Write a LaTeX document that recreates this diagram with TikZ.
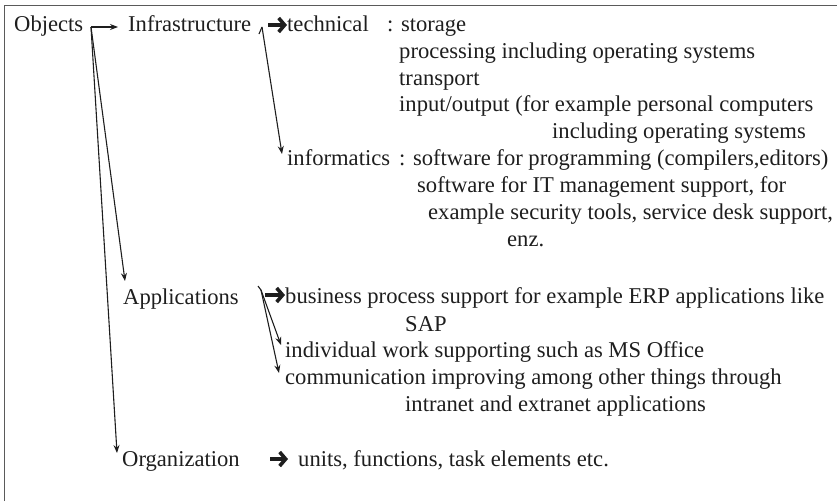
\documentclass[tikz,border=0pt]{standalone}
\usepackage{fontspec}
\setmainfont{Liberation Serif}
\usetikzlibrary{arrows.meta}
\definecolor{ink}{HTML}{1E1E1E}
\definecolor{framec}{HTML}{5A5A5A}
\tikzset{
  txt/.style={anchor=base west, inner sep=0pt, text=ink},
  thinline/.style={draw=ink, line width=1.1pt},
  tarr/.style={draw=ink, line width=1.1pt, -{Stealth[length=8pt,width=6pt]}},
  barr/.style={draw=ink, line width=3.6pt, line join=miter, -{Straight Barb[length=6pt,width=14pt,line width=3.6pt]}}
}
\begin{document}
\begin{tikzpicture}[x=1pt,y=-1pt,font=\fontsize{22.6}{27}\selectfont]
\useasboundingbox (0,0) rectangle (837,501);
\draw[framec, line width=1.3pt] (4.5,501) -- (4.5,5.5) -- (837,5.5);

\node[txt] (obj)   at (14,31)  {Objects};
\node[txt] (infra) at (128,31) {Infrastructure};
\node[txt] (tech)  at (287,31) {technical};
\node[txt] (stor)  at (387,31) {: storage};
\node[txt] (proc)  at (399,58) {processing including operating systems};
\node[txt] (trans) at (399,85) {transport};
\node[txt] (io)    at (399,111) {input/output (for example personal computers};
\node[txt] (incl)  at (552,138) {including operating systems};
\node[txt] (inf)   at (287,165) {informatics};
\node[txt] (sw1)   at (399,165) {: software for programming (compilers,editors)};
\node[txt] (sw2)   at (417,192) {software for IT management support, for};
\node[txt] (sw3)   at (428,219) {example security tools, service desk support,};
\node[txt] (enz)   at (507,246) {enz.};
\node[txt] (app)   at (123,304) {Applications};
\node[txt] (bus)   at (285,303) {business process support for example ERP applications like};
\node[txt] (sap)   at (405,331) {SAP};
\node[txt] (ind)   at (285,357) {individual work supporting such as MS Office};
\node[txt] (comm)  at (285,384) {communication improving among other things through};
\node[txt] (intra) at (405,411) {intranet and extranet applications};
\node[txt] (org)   at (122,466) {Organization};
\node[txt] (units) at (298,466) {units, functions, task elements etc.};

% fork points and arrow tips
\coordinate (of) at (91,27);
\coordinate (infratip) at (118,27);
\coordinate (apptip) at (125,281);
\coordinate (orgtip) at (117,453);
\coordinate (if) at (262,27);
\coordinate (iftail) at (259,34);
\coordinate (inftip) at (282,154);
\coordinate (af) at (261,290);
\coordinate (aftail) at (258,286);
\coordinate (indtip) at (281,345);
\coordinate (commtip) at (279,373);

\draw[tarr] (of) -- (infratip);
\draw[tarr] (of) -- (apptip);
\draw[tarr] (of) -- (orgtip);

\draw[thinline] (iftail) -- (if);
\draw[tarr] (if) -- (inftip);
\draw[barr] (268,25) -- (tech.west |- 0,25);

\draw[thinline] (aftail) -- (af);
\draw[tarr] (af) -- (indtip);
\draw[tarr] (af) -- (commtip);
\draw[barr] (265,295) -- (bus.west |- 0,295);

\draw[barr] (270,459) -- ([xshift=-10pt]units.west |- 0,459);
\end{tikzpicture}
\end{document}
